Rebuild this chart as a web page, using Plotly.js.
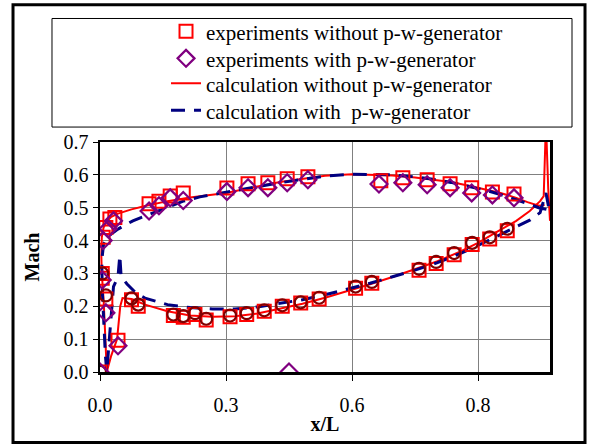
<!DOCTYPE html>
<html>
<head>
<meta charset="utf-8">
<script src="https://cdn.plot.ly/plotly-3.0.1.min.js"></script>
<style>html,body{margin:0;padding:0;background:#fff;}#chart{width:593px;height:445px;}</style>
</head>
<body>
<div id="chart"></div>
<script>
// Experiments without p-w-generator (red squares)
const sqX = [0, 0.005, 0.005, 0.013, 0.007, 0.013, 0.022, 0.033, 0.040,
  0.109, 0.131, 0.156, 0.185, 0.282, 0.329, 0.373, 0.416, 0.462, 0.624, 0.673, 0.727, 0.778, 0.826, 0.872, 0.920,
  0.070, 0.085, 0.163, 0.185, 0.211, 0.236, 0.289, 0.326, 0.365, 0.405, 0.446, 0.487, 0.568, 0.604, 0.709, 0.747, 0.787, 0.827, 0.866, 0.905];
const sqM = [0, 0.300, 0.285, 0.222, 0.410, 0.440, 0.466, 0.470, 0.097,
  0.512, 0.520, 0.536, 0.545, 0.560, 0.573, 0.576, 0.588, 0.594, 0.582, 0.591, 0.585, 0.573, 0.561, 0.548, 0.542,
  0.220, 0.200, 0.172, 0.167, 0.175, 0.158, 0.168, 0.175, 0.185, 0.200, 0.210, 0.222, 0.255, 0.270, 0.310, 0.330, 0.357, 0.388, 0.405, 0.430];

// Experiments with p-w-generator (purple diamonds)
const diX = [0, 0.007, 0.018, 0.030, 0.005, 0.013, 0.040, 0.420,
  0.109, 0.131, 0.156, 0.185, 0.282, 0.329, 0.373, 0.416, 0.462, 0.620, 0.673, 0.727, 0.778, 0.826, 0.872, 0.920];
const diM = [0, 0.400, 0.436, 0.460, 0.280, 0.180, 0.080, 0.000,
  0.490, 0.506, 0.530, 0.522, 0.549, 0.561, 0.561, 0.576, 0.585, 0.572, 0.576, 0.570, 0.561, 0.545, 0.539, 0.530];

// Lower-surface measurements (dark red circles, not in legend)
const ciX = [0, 0.005, 0.013, 0.070, 0.085, 0.163, 0.185, 0.211, 0.236, 0.289, 0.326, 0.365, 0.405, 0.446, 0.487, 0.568, 0.604, 0.709, 0.747, 0.787, 0.827, 0.866, 0.905];
const ciM = [0, 0.300, 0.233, 0.224, 0.205, 0.175, 0.170, 0.179, 0.162, 0.172, 0.179, 0.188, 0.203, 0.212, 0.226, 0.260, 0.274, 0.314, 0.335, 0.362, 0.393, 0.410, 0.436];

// Calculation without p-w-generator (red line)
const redX = [0.988, 0.975, 0.950, 0.925, 0.890, 0.860, 0.820, 0.780, 0.740, 0.700, 0.650, 0.600, 0.560, 0.500, 0.450, 0.400, 0.350, 0.280, 0.200, 0.150, 0.100, 0.070, 0.040, 0.025, 0.015, 0.008, 0.004, 0.003, 0.004, 0.008, 0.012, 0.015,
  0.025, 0.038, 0.045, 0.050, 0.070, 0.100, 0.150, 0.200, 0.250, 0.300, 0.350, 0.400, 0.450, 0.500, 0.550, 0.600, 0.650, 0.700, 0.750, 0.800, 0.840, 0.880, 0.925, 0.955, 0.978, 0.986, 0.991, 0.996, 1.000];
const redM = [0.508, 0.506, 0.517, 0.530, 0.545, 0.555, 0.567, 0.578, 0.586, 0.592, 0.598, 0.601, 0.602, 0.597, 0.588, 0.578, 0.565, 0.545, 0.531, 0.520, 0.505, 0.495, 0.482, 0.472, 0.458, 0.440, 0.410, 0.350, 0.300, 0.220, 0.100, 0.000,
  0.050, 0.100, 0.200, 0.225, 0.222, 0.205, 0.185, 0.172, 0.168, 0.170, 0.178, 0.193, 0.208, 0.226, 0.246, 0.267, 0.289, 0.312, 0.337, 0.366, 0.393, 0.425, 0.460, 0.490, 0.520, 0.535, 0.760, 0.560, 0.460];

// Calculation with p-w-generator (blue dashed line)
const bluX = [0.992, 0.975, 0.950, 0.925, 0.890, 0.860, 0.820, 0.780, 0.740, 0.700, 0.650, 0.600, 0.560, 0.500, 0.450, 0.400, 0.350, 0.280, 0.222, 0.185, 0.127, 0.073, 0.040, 0.020, 0.008, 0.004, 0.005, 0.008, 0.012, 0.015,
  0.020, 0.025, 0.030, 0.040, 0.044, 0.047, 0.060, 0.080, 0.100, 0.150, 0.200, 0.250, 0.300, 0.350, 0.400, 0.450, 0.500, 0.550, 0.600, 0.650, 0.700, 0.750, 0.800, 0.840, 0.880, 0.925, 0.955, 0.978, 0.991, 1.000];
const bluM = [0.495, 0.500, 0.513, 0.525, 0.540, 0.552, 0.565, 0.577, 0.587, 0.594, 0.600, 0.602, 0.602, 0.596, 0.587, 0.576, 0.564, 0.548, 0.533, 0.520, 0.490, 0.460, 0.435, 0.415, 0.390, 0.340, 0.250, 0.150, 0.050, 0.000,
  0.080, 0.180, 0.260, 0.290, 0.355, 0.290, 0.268, 0.240, 0.225, 0.205, 0.196, 0.192, 0.192, 0.198, 0.208, 0.220, 0.235, 0.252, 0.270, 0.290, 0.310, 0.333, 0.360, 0.385, 0.412, 0.440, 0.462, 0.485, 0.545, 0.480];

// Axis ticks
const xTickVals = [0, 0.28, 0.56, 0.84];
const xTickText = ["0.0", "0.3", "0.6", "0.8"];
const yTickVals = [0, 0.1, 0.2, 0.3, 0.4, 0.5, 0.6, 0.7];
const yTickText = ["0.0", "0.1", "0.2", "0.3", "0.4", "0.5", "0.6", "0.7"];

const FONT = "Liberation Serif, Times New Roman, serif";

const traces = [
  {x: redX, y: redM, type: 'scatter', mode: 'lines', name: 'calculation without p-w-generator',
   line: {color: '#FF0000', width: 2}, legend: 'legend3'},
  {x: bluX, y: bluM, type: 'scatter', mode: 'lines', name: 'calculation with  p-w-generator',
   line: {color: '#000080', width: 3, dash: '14px,9px'}, legend: 'legend4'},
  {x: sqX, y: sqM, type: 'scatter', mode: 'markers', name: 'experiments without p-w-generator',
   marker: {symbol: 'square-open', size: 13, color: '#FF0000', line: {width: 2, color: '#FF0000'}}, legend: 'legend'},
  {x: ciX, y: ciM, type: 'scatter', mode: 'markers', name: 'lower', showlegend: false,
   marker: {symbol: 'circle-open', size: 12, color: '#800000', line: {width: 2.2, color: '#800000'}}},
  {x: diX, y: diM, type: 'scatter', mode: 'markers', name: 'experiments with p-w-generator',
   marker: {symbol: 'diamond-open', size: 13, color: '#800080', line: {width: 2.2, color: '#800080'}}, legend: 'legend2'}
];

function leg(y) {
  return {x: 0.1467, y: y, xanchor: 'left', yanchor: 'top', bgcolor: 'rgba(0,0,0,0)', borderwidth: 0,
          font: {family: FONT, size: 21, color: '#000'}};
}

const layout = {
  width: 593, height: 445,
  margin: {l: 100, r: 43, t: 141, b: 73},
  paper_bgcolor: '#ffffff', plot_bgcolor: '#ffffff',
  font: {family: FONT, size: 20, color: '#000'},
  showlegend: true,
  legend: leg(1.562),
  legend2: leg(1.445),
  legend3: leg(1.337),
  legend4: leg(1.220),
  xaxis: {range: [0, 1], tickvals: xTickVals, ticktext: xTickText, showgrid: true, gridcolor: '#808080', gridwidth: 1,
          zeroline: false, showline: true, mirror: true, linecolor: '#000', linewidth: 2.5,
          ticks: 'outside', ticklen: 6, tickcolor: '#000', tickwidth: 1, ticklabelstandoff: 7,
          tickfont: {family: FONT, size: 20}, automargin: false,
          title: {text: '<b>x/L</b>', font: {family: FONT, size: 20}, standoff: 3}},
  yaxis: {range: [0, 0.7], tickvals: yTickVals, ticktext: yTickText, showgrid: true, gridcolor: '#808080', gridwidth: 1,
          zeroline: false, showline: true, mirror: true, linecolor: '#000', linewidth: 2.5,
          ticks: 'outside', ticklen: 5, tickcolor: '#000', tickwidth: 1,
          tickfont: {family: FONT, size: 20}, automargin: false,
          title: {text: '<b>Mach</b>', font: {family: FONT, size: 20}, standoff: 19}},
  shapes: [
    {type: 'rect', xref: 'paper', yref: 'paper', x0: -0.1067, x1: 1.0489, y0: 1.065, y1: 1.537,
     line: {color: '#000', width: 1}, fillcolor: 'rgba(0,0,0,0)'},
    {type: 'rect', xref: 'paper', yref: 'paper', x0: -0.1933, x1: 1.0778, y0: -0.307, y1: 1.597,
     line: {color: '#000', width: 3}, fillcolor: 'rgba(0,0,0,0)'}
  ]
};

Plotly.newPlot('chart', traces, layout, {displayModeBar: false, staticPlot: true});
</script>
</body>
</html>
